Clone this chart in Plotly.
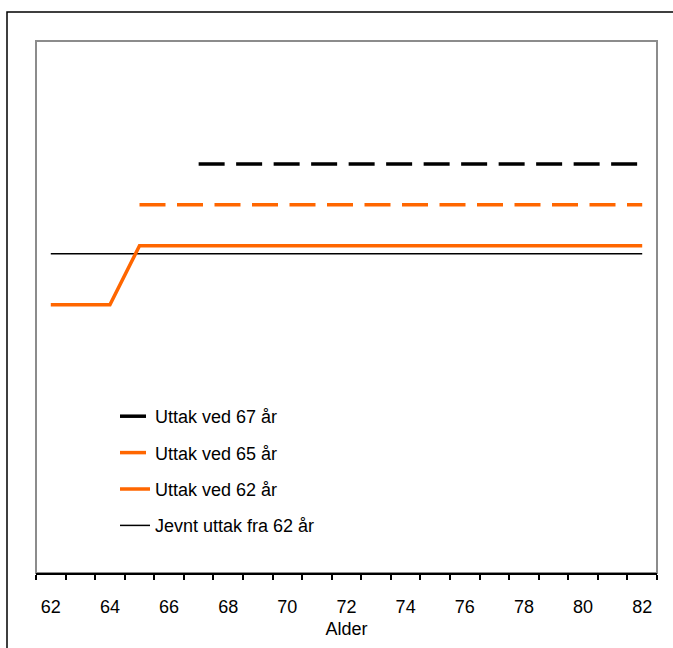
import plotly.graph_objects as go

ages = [62, 63, 64, 65, 66, 67, 68, 69, 70, 71, 72, 73, 74, 75, 76, 77, 78, 79, 80, 81, 82]
jevnt_62 = [60.0, 60.0, 60.0, 60.0, 60.0, 60.0, 60.0, 60.0, 60.0, 60.0, 60.0,
            60.0, 60.0, 60.0, 60.0, 60.0, 60.0, 60.0, 60.0, 60.0, 60.0]
uttak_62 = [50.4, 50.4, 50.4, 61.5, 61.5, 61.5, 61.5, 61.5, 61.5, 61.5, 61.5,
            61.5, 61.5, 61.5, 61.5, 61.5, 61.5, 61.5, 61.5, 61.5, 61.5]
uttak_65 = [None, None, None, 69.2, 69.2, 69.2, 69.2, 69.2, 69.2, 69.2, 69.2,
            69.2, 69.2, 69.2, 69.2, 69.2, 69.2, 69.2, 69.2, 69.2, 69.2]
uttak_67 = [None, None, None, None, None, 76.9, 76.9, 76.9, 76.9, 76.9, 76.9,
            76.9, 76.9, 76.9, 76.9, 76.9, 76.9, 76.9, 76.9, 76.9, 76.9]
tick_labels = ["62", "64", "66", "68", "70", "72", "74", "76", "78", "80", "82"]
tick_values = [62, 64, 66, 68, 70, 72, 74, 76, 78, 80, 82]

ORANGE = "#FF6600"
FONT = "Liberation Sans, Arial, sans-serif"

fig = go.Figure()
fig.add_trace(go.Scatter(x=ages, y=jevnt_62, mode="lines", name="Jevnt uttak fra 62 år",
                         line=dict(color="black", width=1.5), legendrank=4, legendgroup="d"))
fig.add_trace(go.Scatter(x=ages, y=uttak_62, mode="lines", name="Uttak ved 62 år",
                         line=dict(color=ORANGE, width=3.5), legendrank=3, legendgroup="c"))
fig.add_trace(go.Scatter(x=ages, y=uttak_65, mode="lines", name="Uttak ved 65 år",
                         line=dict(color=ORANGE, width=3.5, dash="26px,11.5px"), legendrank=2, legendgroup="b"))
fig.add_trace(go.Scatter(x=ages, y=uttak_67, mode="lines", name="Uttak ved 67 år",
                         line=dict(color="black", width=3.5, dash="26px,11.5px"), legendrank=1, legendgroup="a"))

L, R, T, B = 36, 16, 41, 75
W, H = 673, 648
pw = W - L - R
ph = H - T - B

fig.update_layout(
    width=W, height=H,
    margin=dict(l=L, r=R, t=T, b=B),
    paper_bgcolor="white", plot_bgcolor="white",
    font=dict(family=FONT, size=18, color="black"),
    showlegend=True,
    legend=dict(x=(115 - L) / pw, y=(573 - 398) / ph, xanchor="left", yanchor="top",
                bgcolor="rgba(0,0,0,0)", tracegroupgap=10,
                font=dict(family=FONT, size=18, color="black")),
    xaxis=dict(range=[61.5, 82.5], tickmode="array", tickvals=tick_values, ticktext=tick_labels,
               ticks="", showgrid=False, zeroline=False, showline=True, linecolor="black", linewidth=1.5,
               minor=dict(tickmode="linear", tick0=61.5, dtick=1, ticks="outside", ticklen=5,
                          tickcolor="black", tickwidth=1.5, showgrid=False),
               ticklabelstandoff=17,
               title=dict(text="Alder", standoff=6, font=dict(family=FONT, size=18))),
    yaxis=dict(range=[0, 100], visible=False, showgrid=False, zeroline=False),
    shapes=[
        dict(type="rect", xref="paper", yref="paper", x0=0, x1=1, y0=0, y1=1,
             line=dict(color="#8c8c8c", width=2), layer="below"),
        dict(type="rect", xref="paper", yref="paper",
             x0=(7 - L) / pw, x1=(700 - L) / pw, y0=(573 - 700) / ph, y1=(573 - 12) / ph,
             line=dict(color="black", width=1.5), layer="below"),
    ],
)

fig.write_html("out.html", config={"displayModeBar": False},
               post_script="document.body.style.margin='0';document.body.style.overflow='hidden';")
